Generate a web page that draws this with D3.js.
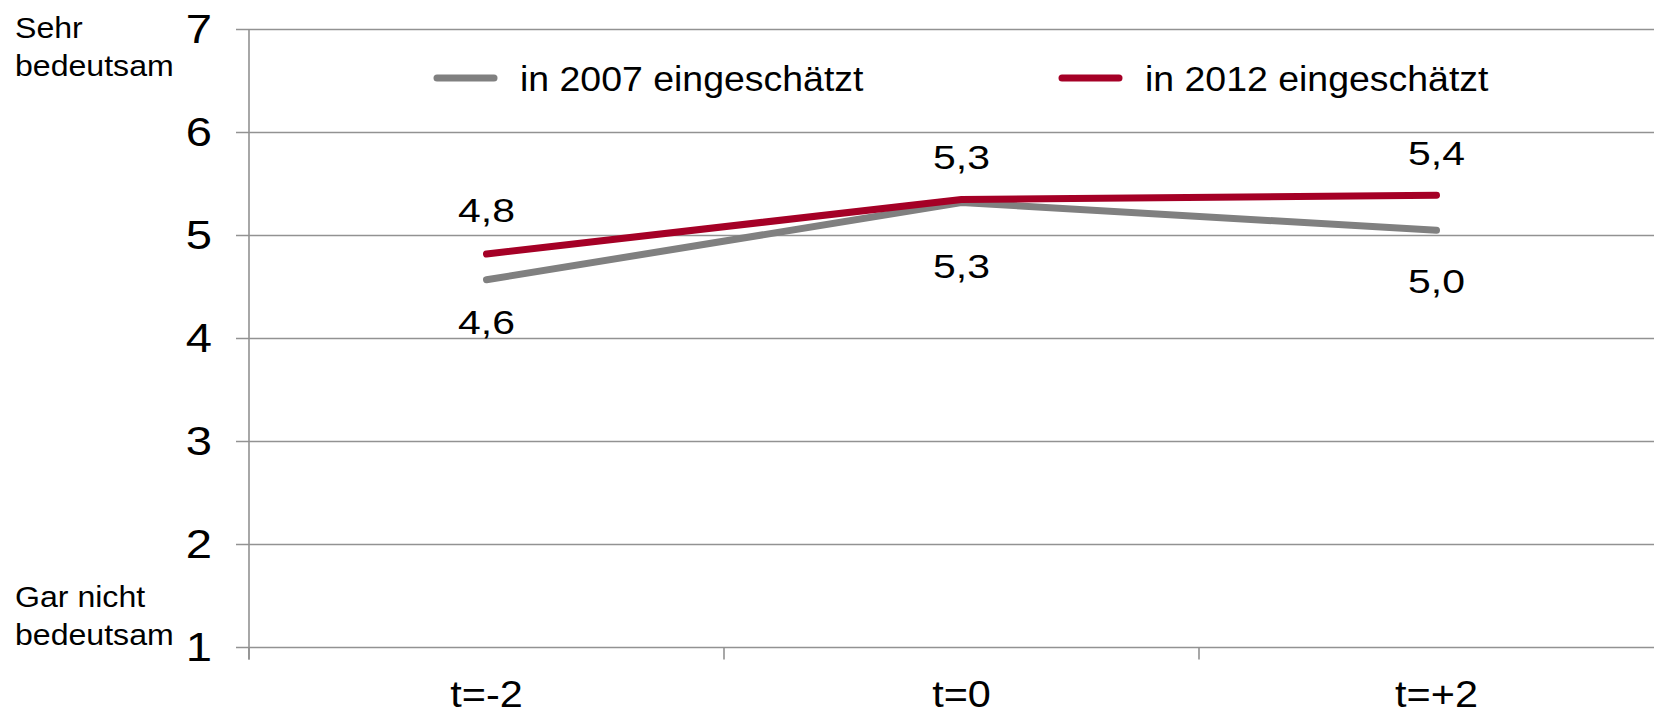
<!DOCTYPE html>
<html>
<head>
<meta charset="utf-8">
<script src="https://cdn.jsdelivr.net/npm/d3@7"></script>
<style>
  html, body { margin: 0; padding: 0; background: #fff; }
  svg { display: block; font-family: "Liberation Sans", Arial, Helvetica, sans-serif; }
</style>
</head>
<body>
<svg id="chart" width="1654" height="715"></svg>
<script>
// ---- data ----
const categories = ["t=-2", "t=0", "t=+2"];
const values2007 = [4.57, 5.32, 5.05];
const values2012 = [4.82, 5.35, 5.39];
const labels2007 = ["4,6", "5,3", "5,0"];
const labels2012 = ["4,8", "5,3", "5,4"];
const seriesNames = ["in 2007 eingeschätzt", "in 2012 eingeschätzt"];
const yTicks = [1, 2, 3, 4, 5, 6, 7];
const yTopText = ["Sehr", "bedeutsam"];
const yBottomText = ["Gar nicht", "bedeutsam"];

// ---- layout / style ----
const W = 1654, H = 715;
const axisX = 249, plotRight = 1674, yTop = 29.5, yBottom = 647.5;
const colors = ["#808080", "#a50026"];
const gridColor = "#929292";
const labelDy2007 = [54, 75, 63];    // baseline offset below point
const labelDy2012 = [-32, -30, -30]; // baseline offset above point

const svg = d3.select("#chart");

const x = d3.scaleBand().domain(categories).range([axisX, plotRight]).paddingInner(0).paddingOuter(0);
const y = d3.scaleLinear().domain([1, 7]).range([yBottom, yTop]);
const cx = d => x(d) + x.bandwidth() / 2;

// helper: place horizontally stretched text
function place(sel, fx, fy, sx) {
  sel.attr("transform", (d, i) => `translate(${fx(d, i)},${fy(d, i)}) scale(${sx},1)`);
}

// gridlines (with left tick stubs)
svg.append("g").selectAll("line").data(yTicks).join("line")
  .attr("x1", axisX - 13).attr("x2", W)
  .attr("y1", d => y(d)).attr("y2", d => y(d))
  .attr("stroke", gridColor).attr("stroke-width", 1.6);

// y axis line
svg.append("line")
  .attr("x1", axisX).attr("x2", axisX)
  .attr("y1", yTop).attr("y2", yBottom + 12)
  .attr("stroke", gridColor).attr("stroke-width", 1.6);

// x category boundary ticks
svg.append("g").selectAll("line").data(categories).join("line")
  .attr("x1", d => x(d)).attr("x2", d => x(d))
  .attr("y1", yBottom).attr("y2", yBottom + 12)
  .attr("stroke", gridColor).attr("stroke-width", 1.6);

// y tick labels
svg.append("g").selectAll("text").data(yTicks).join("text")
  .attr("text-anchor", "end")
  .attr("font-size", 40).attr("fill", "#000")
  .call(place, () => 212, d => y(d) + 13, 1.18)
  .text(d => d);

// category labels
svg.append("g").selectAll("text").data(categories).join("text")
  .attr("text-anchor", "middle")
  .attr("font-size", 37).attr("fill", "#000")
  .call(place, d => cx(d), () => 707, 1.12)
  .text(d => d);

// side texts
const side = svg.append("g").attr("font-size", 30).attr("fill", "#000");
side.selectAll("text.top").data(yTopText).join("text").attr("class", "top")
  .call(place, () => 15, (d, i) => 38 + i * 38, 1.07).text(d => d);
side.selectAll("text.bot").data(yBottomText).join("text").attr("class", "bot")
  .call(place, () => 15, (d, i) => 607 + i * 38, 1.07).text(d => d);

// lines
const line = d3.line().x((d, i) => cx(categories[i])).y(d => y(d));
[values2007, values2012].forEach((vals, k) => {
  svg.append("path").datum(vals)
    .attr("d", line)
    .attr("fill", "none")
    .attr("stroke", colors[k])
    .attr("stroke-width", 7)
    .attr("stroke-linecap", "round")
    .attr("stroke-linejoin", "round");
});

// data labels
svg.append("g").selectAll("text").data(values2007).join("text")
  .attr("text-anchor", "middle").attr("font-size", 33).attr("fill", "#000")
  .call(place, (d, i) => cx(categories[i]), (d, i) => y(d) + labelDy2007[i], 1.24)
  .text((d, i) => labels2007[i]);
svg.append("g").selectAll("text").data(values2012).join("text")
  .attr("text-anchor", "middle").attr("font-size", 33).attr("fill", "#000")
  .call(place, (d, i) => cx(categories[i]), (d, i) => y(d) + labelDy2012[i], 1.24)
  .text((d, i) => labels2012[i]);

// legend
const legendX = [437, 1062];
const leg = svg.append("g");
seriesNames.forEach((name, k) => {
  leg.append("line")
    .attr("x1", legendX[k]).attr("x2", legendX[k] + 57)
    .attr("y1", 78).attr("y2", 78)
    .attr("stroke", colors[k]).attr("stroke-width", 7).attr("stroke-linecap", "round");
  leg.append("text")
    .attr("font-size", 35).attr("fill", "#000")
    .attr("transform", `translate(${legendX[k] + 83},91) scale(1.07,1)`)
    .text(name);
});
</script>
</body>
</html>
